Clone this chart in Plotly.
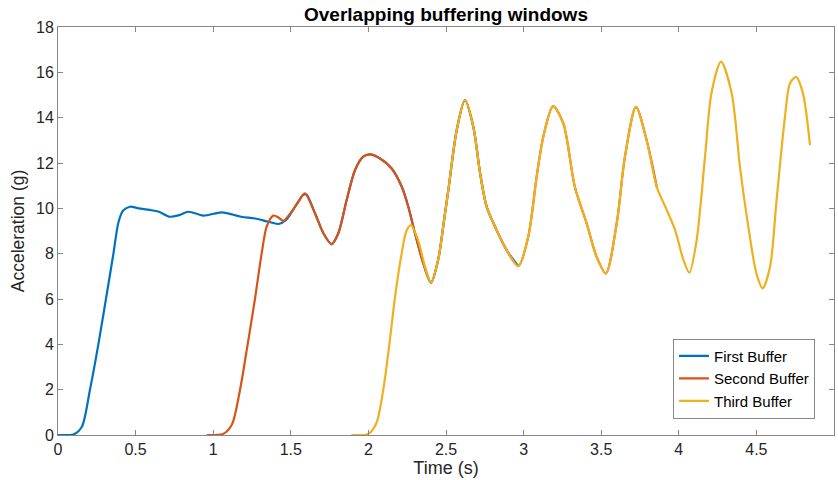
import plotly.graph_objects as go

# First buffer
t1 = [0.0, 0.05, 0.1, 0.153, 0.206, 0.26, 0.309, 0.357, 0.39, 0.42, 0.464, 0.52, 0.59, 0.65, 0.72,
      0.78, 0.84, 0.936, 1.055, 1.18, 1.27, 1.355, 1.42, 1.473, 1.527, 1.58, 1.6, 1.656, 1.71, 1.763,
      1.806, 1.86, 1.914, 1.967, 2.01, 2.075, 2.15, 2.215, 2.257, 2.3, 2.354, 2.403, 2.45, 2.49,
      2.515, 2.569, 2.622, 2.676, 2.72, 2.762, 2.826, 2.89, 2.966]
a1 = [0.0, 0.0, 0.02, 0.35, 2.0, 4.0, 6.0, 8.0, 9.4, 9.9, 10.07, 10.0, 9.93, 9.85, 9.63,
      9.7, 9.85, 9.68, 9.82, 9.63, 9.55, 9.41, 9.31, 9.51, 10.07, 10.59, 10.62, 9.78, 8.9, 8.42,
      8.9, 10.37, 11.69, 12.28, 12.38, 12.2, 11.76, 10.95, 10.07, 8.9, 7.57, 6.72, 7.75, 9.6,
      10.8, 13.45, 14.78, 13.6, 11.54, 10.07, 9.04, 8.16, 7.45]

# Second buffer
t2 = [0.958, 1.01, 1.065, 1.12, 1.173, 1.222, 1.269, 1.312, 1.345, 1.387, 1.42, 1.452,
      1.505, 1.55, 1.59, 1.656, 1.71, 1.763, 1.806, 1.86, 1.914, 1.967, 2.01, 2.075, 2.15, 2.215,
      2.257, 2.3, 2.354, 2.403, 2.45, 2.49, 2.515, 2.569, 2.622, 2.676, 2.72, 2.762, 2.826, 2.89,
      2.966, 3.03, 3.084, 3.127, 3.19, 3.256, 3.33, 3.406, 3.47, 3.53, 3.6, 3.653, 3.724, 3.793,
      3.858]
a2 = [0.0, 0.0, 0.05, 0.45, 2.0, 4.0, 6.0, 8.0, 9.2, 9.68, 9.6, 9.45,
      9.85, 10.3, 10.66, 9.78, 8.9, 8.42, 8.9, 10.37, 11.69, 12.28, 12.38, 12.2, 11.76, 10.95,
      10.07, 8.9, 7.57, 6.72, 7.75, 9.6, 10.8, 13.45, 14.78, 13.6, 11.54, 10.07, 9.04, 8.16,
      7.45, 8.75, 11.4, 13.16, 14.51, 13.75, 10.95, 9.34, 7.87, 7.13, 9.34, 12.28, 14.48, 13.0,
      10.95]

# Third buffer
t3 = [1.89, 1.94, 1.995, 2.05, 2.096, 2.135, 2.17, 2.214, 2.245, 2.274, 2.32, 2.365, 2.403, 2.45,
      2.49, 2.515, 2.569, 2.622, 2.676, 2.72, 2.762, 2.826, 2.89, 2.966, 3.03, 3.084, 3.127, 3.19,
      3.256, 3.33, 3.406, 3.47, 3.53, 3.6, 3.653, 3.724, 3.793, 3.858, 3.922, 3.976, 4.03, 4.068,
      4.115, 4.169, 4.21, 4.272, 4.341, 4.394, 4.448, 4.5, 4.54, 4.588, 4.63, 4.684, 4.716, 4.755,
      4.8, 4.845]
a3 = [0.0, 0.0, 0.03, 0.5, 2.0, 4.0, 6.0, 8.0, 9.0, 9.26, 8.6, 7.42, 6.72, 7.75,
      9.6, 10.8, 13.45, 14.78, 13.6, 11.54, 10.07, 9.04, 8.16, 7.45, 8.75, 11.4, 13.16, 14.51,
      13.75, 10.95, 9.34, 7.87, 7.13, 9.34, 12.28, 14.48, 13.0, 10.95, 9.93, 9.04, 7.72, 7.16,
      8.6, 12.28, 15.07, 16.47, 15.07, 11.84, 9.19, 7.13, 6.47, 7.42, 10.37, 14.04, 15.51, 15.8,
      15.07, 12.79]

names = ["First Buffer", "Second Buffer", "Third Buffer"]
colors = ["#0072BD", "#D95319", "#EDB120"]

x_ticks = [0, 0.5, 1, 1.5, 2, 2.5, 3, 3.5, 4, 4.5, 5]
y_ticks = [0, 2, 4, 6, 8, 10, 12, 14, 16, 18]

FONT = "Liberation Sans, Arial, Helvetica"

fig = go.Figure()
for t, a, n, c in zip([t1, t2, t3], [a1, a2, a3], names, colors):
    fig.add_trace(go.Scatter(x=t, y=a, mode="lines", name=n,
                             line=dict(color=c, width=2.2, shape="spline", smoothing=0.8)))

axis_common = dict(showline=True, linecolor="#878787", linewidth=1, mirror="ticks",
                   ticks="inside", ticklen=5, tickcolor="#878787", showgrid=False,
                   zeroline=False, tickfont=dict(family=FONT, size=16, color="#262626"))

fig.update_layout(
    width=838, height=480,
    margin=dict(l=58, r=4, t=27, b=45),
    paper_bgcolor="white", plot_bgcolor="white",
    title=dict(text="<b>Overlapping buffering windows</b>", x=0.5, xref="paper", xanchor="center",
               y=0.971, yanchor="middle",
               font=dict(family=FONT, size=19, color="black")),
    xaxis=dict(range=[0, 5], tickvals=x_ticks, ticktext=[f"{v:g}" for v in x_ticks],
               title=dict(text="Time (s)", standoff=2,
                          font=dict(family=FONT, size=18, color="#262626")),
               **axis_common),
    yaxis=dict(range=[0, 18], tickvals=y_ticks,
               title=dict(text="Acceleration (g)", standoff=6,
                          font=dict(family=FONT, size=17.5, color="#262626")),
               **axis_common),
    legend=dict(x=0.9755, xanchor="right", y=0.04, yanchor="bottom",
                bgcolor="white", bordercolor="#878787", borderwidth=1,
                font=dict(family=FONT, size=15, color="black"),
                itemwidth=30, tracegroupgap=0),
    showlegend=True,
)

fig.write_html("out.html")
